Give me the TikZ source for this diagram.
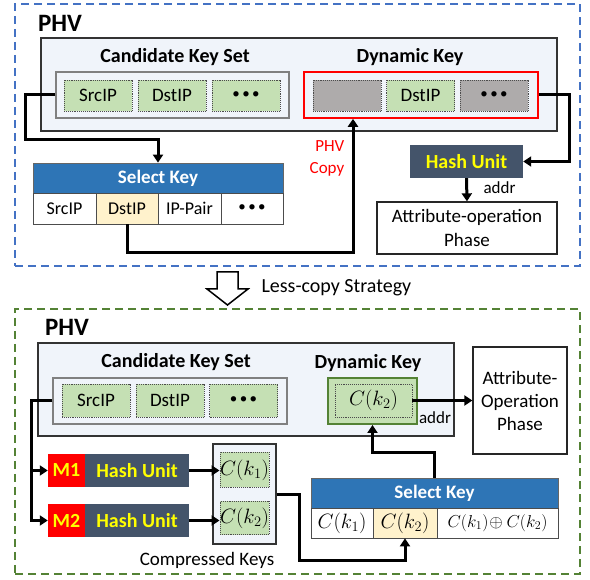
\documentclass[tikz,border=0pt]{standalone}
\usepackage{fontspec}
\setmainfont{Carlito}
\usetikzlibrary{arrows.meta}
\definecolor{bluedash}{HTML}{4472C4}
\definecolor{greendash}{HTML}{548235}
\definecolor{panelfill}{HTML}{F0F4FA}
\definecolor{cellgreen}{HTML}{C5E0B4}
\definecolor{cellgray}{HTML}{AEABAB}
\definecolor{headblue}{HTML}{2E75B6}
\definecolor{cellyellow}{HTML}{FFF2CC}
\definecolor{hashfill}{HTML}{44546A}
\definecolor{hashtext}{HTML}{FFFF00}
\newcommand{\dotsthree}{{\fontsize{15}{15}\selectfont\textbullet\,\textbullet\,\textbullet}}
\tikzset{
  fs/.style={font=\fontsize{#1}{#1}\selectfont},
  frameA/.style={draw=bluedash, line width=1.6pt, dash pattern=on 8pt off 5pt, minimum width=565, minimum height=262, inner sep=0},
  frameB/.style={draw=greendash, line width=1.6pt, dash pattern=on 8pt off 5pt, minimum width=565, minimum height=265, inner sep=0},
  phvlabel/.style={font=\fontsize{25}{28}\selectfont\bfseries},
  ttl/.style={font=\fontsize{20}{23}\selectfont\bfseries},
  panel/.style={draw=black!80, line width=1.3pt, fill=panelfill, inner sep=0},
  innerbox/.style={draw=black!50, line width=1.3pt, fill=panelfill, inner sep=0},
  keycell/.style={draw=black!70, densely dotted, line width=0.9pt, fill=cellgreen, minimum width=68, minimum height=31, inner sep=0, font=\fontsize{19}{22}\selectfont},
  graycell/.style={keycell, fill=cellgray},
  headbox/.style={draw=black!60, line width=0.8pt, fill=headblue, text=white, inner sep=0, minimum height=30, font=\fontsize{19}{22}\selectfont\bfseries},
  tcell/.style={draw=black!70, line width=0.8pt, fill=white, inner sep=0, minimum height=31, font=\fontsize{18}{21}\selectfont},
  hashbox/.style={fill=hashfill, text=hashtext, inner sep=0, minimum height=33, font=\fontsize{20}{23}\selectfont\bfseries},
  mbox/.style={fill=red, text=hashtext, inner sep=0, minimum height=33, minimum width=37, font=\fontsize{20}{23}\selectfont\bfseries},
  plainbox/.style={draw=black!85, line width=1.3pt, fill=white, inner sep=0, align=center},
  conn/.style={line width=3pt, line join=miter},
  arr/.style={conn, -{Triangle[length=8pt,width=10pt]}},
}
\begin{document}
\begin{tikzpicture}[x=1pt,y=-1pt]
\useasboundingbox (0,0) rectangle (590,580);

% ===== Top part =====
\node[frameA] (frA) at (297.5,135) {};
\node[phvlabel] (phvA) at (60,23) {PHV};
\node[panel, minimum width=516, minimum height=93] (panA) at (299,84.5) {};
\node[ttl] (cksA) at (175,57) {Candidate Key Set};
\node[innerbox, minimum width=233, minimum height=46] (candA) at (172.5,95) {};
\node[keycell] (srcA) at (98,95.5) {SrcIP};
\node[keycell] (dstA) at (172,95.5) {DstIP};
\node[keycell] (dotA) at (246,95.5) {\dotsthree};
\node[ttl] (dkA) at (410,57) {Dynamic Key};
\node[draw=red, line width=1.6pt, fill=panelfill, minimum width=234, minimum height=46, inner sep=0] (redA) at (421,95) {};
\node[graycell] (g1A) at (347,95.5) {};
\node[keycell] (d2A) at (420.5,95.5) {DstIP};
\node[graycell] (g2A) at (494,95.5) {\dotsthree};

\node[hashbox, minimum width=113] (hashA) at (466.5,161.5) {Hash Unit};
\node[plainbox, minimum width=180, minimum height=52, font=\fontsize{19}{24}\selectfont] (attrA) at (467,228) {Attribute-operation\\Phase};
\node[fs=17, anchor=west] (addrA) at (480,188) {addr};
\node[font=\fontsize{17}{22}\selectfont, text=red, align=right] (copyA) at (327,158) {PHV\\Copy};

\node[headbox, minimum width=250] (selA) at (158,178) {Select Key};
\node[tcell, minimum width=63] (s1A) at (64.5,208.5) {SrcIP};
\node[tcell, minimum width=62, fill=cellyellow] (s2A) at (127,208.5) {DstIP};
\node[tcell, minimum width=63] (s3A) at (189.5,208.5) {IP-Pair};
\node[tcell, minimum width=62] (s4A) at (252,208.5) {\dotsthree};

\coordinate (b1) at (25,140);
\draw[arr] (candA.west) -| (b1) -| (selA.north);
\coordinate (b2) at (569,95);
\draw[arr] (redA.east) -- (b2) |- (hashA.east);
\draw[arr] (hashA.south) -- (attrA.north);
\coordinate (b3) at (353,253);
\draw[arr] (s2A.south) |- (b3) -- (b3 |- redA.south);

% ===== Middle arrow =====
\draw[line width=1.5pt, fill=white, line join=miter] (217,272) -- (238,272) -- (238,289) -- (248,289) -- (227.5,305) -- (207,289) -- (217,289) -- cycle;
\node[fs=20, anchor=west] (less) at (258,288) {Less-copy Strategy};

% ===== Bottom part =====
\node[frameB] (frB) at (297.5,441.5) {};
\node[phvlabel] (phvB) at (67,327) {PHV};
\node[panel, minimum width=416, minimum height=93] (panB) at (246,389.5) {};
\node[ttl] (cksB) at (176,362) {Candidate Key Set};
\node[innerbox, minimum width=234, minimum height=46] (candB) at (170,401) {};
\node[keycell, minimum height=33] (srcB) at (96,400.5) {SrcIP};
\node[keycell, minimum height=33] (dstB) at (170,400.5) {DstIP};
\node[keycell, minimum height=33] (dotB) at (243.5,400.5) {\dotsthree};
\node[ttl] (dkB) at (368,363) {Dynamic Key};
\node[draw=greendash, line width=2pt, fill=cellgreen, minimum width=89, minimum height=46, inner sep=0] (grnB) at (372.5,401) {};
\node[keycell, minimum width=77, minimum height=33, fs=22] (ckB) at (373.5,400.5) {$C(k_2)$};
\node[plainbox, minimum width=94, minimum height=107, font=\fontsize{19}{23}\selectfont] (attrB) at (520,400.5) {Attribute-\\Operation\\Phase};
\draw[arr] (ckB.east) -- (attrB.west);
\node[fs=17] (addrB) at (435,418) {addr};

\node[mbox] (m1) at (66.5,470.5) {M1};
\node[hashbox, minimum width=104] (h1) at (137,470.5) {Hash Unit};
\node[mbox] (m2) at (66.5,520.5) {M2};
\node[hashbox, minimum width=104] (h2) at (137,520.5) {Hash Unit};

\node[panel, minimum width=63, minimum height=100] (comp) at (244.5,494) {};
\node[keycell, minimum width=49, minimum height=35, fs=20] (c1) at (244.5,470) {$C(k_1)$};
\node[keycell, minimum width=49, minimum height=33, fs=20] (c2) at (244.5,518) {$C(k_2)$};
\node[fs=19] (ckeys) at (207,560) {Compressed Keys};

\draw[arr] (h1.east) -- (h1.east -| c1.west);
\draw[arr] (h2.east) -- (h2.east -| c2.west);

\coordinate (b4) at (31,401);
\draw[arr] (candB.west) -- (b4) |- (m2.west);
\draw[arr] (b4 |- m1.west) -- (m1.west);

\node[headbox, minimum width=247] (selB) at (434.5,493) {Select Key};
\node[tcell, minimum width=62, minimum height=30, fs=20] (t1) at (342,523) {$C(k_1)$};
\node[tcell, minimum width=64, minimum height=30, fill=cellyellow, fs=20] (t2) at (405,523) {$C(k_2)$};
\node[tcell, minimum width=121, minimum height=30, fs=18] (t3) at (497.5,523) {$C(k_1)\!\oplus C(k_2)$};

\coordinate (b5) at (299,560);
\draw[arr] ([yshift=-1pt]comp.east) -| (b5) -| (t2.south);
\coordinate (b6) at (434.5,453);
\draw[arr] (selB.north) -- (b6) -| (grnB.south);
\end{tikzpicture}
\end{document}
